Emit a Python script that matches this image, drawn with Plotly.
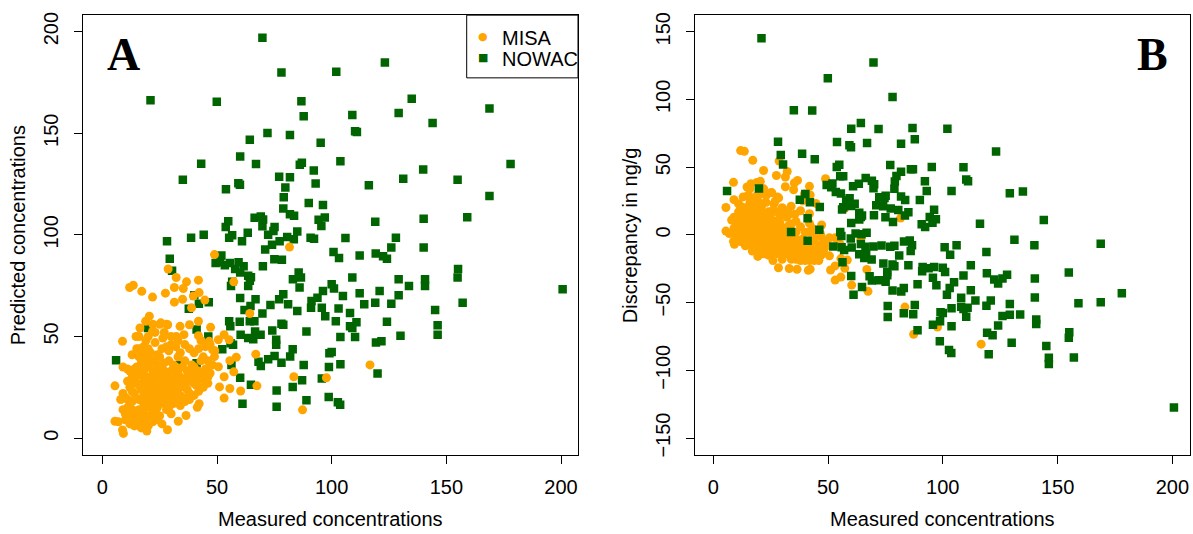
import plotly.graph_objects as go

# ---------------- data ----------------
nowac_measured = [69.8,123.2,78.1,102,21,49.9,86.8,134.9,168.8,109,129.2,87.8,144,72,81.8,110.2,111,64.3,95.2,60.1,
                  43.1,67,103.8,86.1,87,139.9,178,92.2,35.1,131.2,154.9,77.1,81.8,53.9,59.3,60,93,116.2,79.8,79.1,
                  168.8,90,96.2,78.9,81.8,83.6,140.1,159.1,66.4,69.1,70.1,54.9,53.8,69.8,94.3,97,95.5,119,63.4,56.6,
                  55.3,38.7,44.2,28.2,60.9,72.3,74.6,75.1,80.6,85,83.5,90.8,92.3,106,128,74,77.3,71,140.1,126,
                  100.8,103.2,112.2,119.2,122.4,124.1,29.4,75,78.3,51.9,49.4,51.4,53.4,55.6,59.4,57.9,61.6,70,30.4,60.1,
                  63.6,64.3,63.6,64.8,85.6,86.6,83.1,109,129.2,140.7,140.7,155.1,154.9,133.7,200.7,56.1,56.6,86,100,101,
                  96.2,93.8,91.2,91,95.7,97.2,104.9,112.2,120.9,129.2,119,114.2,126,157.1,145.1,103,108,78.9,77.1,81,
                  73.3,69.8,66.8,64.6,60.1,62,85,59.9,55.3,55.8,64.3,66.3,66.6,69,63.6,65.8,60.3,74.1,75.8,75.8,
                  78.1,78.9,89,101.8,108,109,110.8,124.1,103.8,110.2,130,119.3,121.7,146.2,146.2,52.3,55.9,57,83,81.9,
                  75.1,72.3,78.1,68.1,69.1,56.3,6,87.8,98.8,103.8,100,99,120,87.1,60.1,95.7,83,64.8,76,98.7,
                  89,61.1,76,102.7,103.7,19.9,37.7,40.1,42.1,46.4,41.1,46.2,33.9,41.1]
nowac_predicted = [197,184.8,179.9,180.3,166.2,165.5,165.7,167,162.2,159,160,158.4,155,150.1,149.1,151,150.6,146.8,145.3,138.5,
                   135,134.9,136.2,134.5,135.5,132.2,134.9,131.7,127.1,127.6,127.1,128.6,128.4,122.5,125.4,124.6,125.3,124.4,123.3,118.5,
                   119.1,115.7,114.7,113,110.2,109.4,107.9,108.7,108.4,109,107.5,106.7,103.9,104.2,107.4,108.5,104.4,106.4,101.1,99.8,
                   98.6,98.6,100.1,96.9,96.8,100.1,101.9,103.9,98.9,101.7,97.8,98.6,98.1,98.4,98.6,95.1,96.8,92.8,93.8,93.8,
                   91.6,88.6,89.8,90.8,89.5,88.2,88.3,88,87.8,89.8,86.2,86.5,85,86.2,86.5,83.2,84.5,84.5,82.4,81.5,
                   79.9,77.4,74.9,79.1,81.5,79,78.2,79,78.2,78.2,74.9,83.2,79,74.9,73.2,74.9,76.9,74.1,75.7,73.6,
                   72.4,69.1,67.4,64.1,64.1,60,69.9,71.3,72.4,70.3,66.6,65.8,66.1,66.6,63,63.8,61.6,70.8,68.3,65.8,
                   65.5,61.3,68.3,65,68.9,63,62.5,57.3,57.5,55,57.5,57.5,52.5,50.9,49.2,48.7,50.9,53,48.4,45.9,
                   56.3,55.8,52.5,57.5,55,54.2,57,57.2,49.7,49.7,50.4,47.1,47.6,55.5,50.9,43.7,46.7,45.9,43.7,40.1,
                   40.4,38.8,37.1,37.6,35.5,36,38.3,36,35,36.3,42.4,41.8,31.8,28.5,29.7,29.3,25.2,26.3,23.4,20.2,
                   18.6,16.9,15.4,17.7,16.4,54.2,63.6,70.3,66.1,66.9,53.4,50,36,36.8]

misa_measured = [81.6,48.9,57.3,28.7,32.2,41.9,36.7,13.5,11.9,17.2,21.9,27.5,31.4,35.3,39.7,42.2,44.7,35,31.4,38.9,
                 64.3,20.5,18.9,25.5,28.5,33.9,38,41.9,47.2,16.4,21.9,14.7,8.8,26.4,32.2,35.6,41.9,46.6,50.6,53.1,
                 55.3,48.1,48.9,58.4,55.6,66.9,50.6,57.3,53.1,51.1,55.6,60.3,53.1,67.4,83.5,97.7,116.7,87.3,5.5,5.5,
                 8.8,9.2,19.4,28.4,33.1,36.5,41.4,42.2,
                 10,11,12,12,13,13,14,14,15,15,15,16,16,16,17,17,17,18,18,18,
                 18,19,19,19,20,20,20,20,21,21,21,22,22,22,22,23,23,23,24,24,
                 24,25,25,25,26,26,26,27,27,27,28,28,28,29,29,29,30,30,30,31,
                 31,31,32,32,33,33,33,34,34,35,35,36,36,37,37,38,38,39,40,40,
                 41,42,43,44,45,46,47,12,14,16,18,19,21,23,24,26,27,28,30,32,
                 34,29,25,22,17,15,13,11,10,12,14,17,20,22,24,26,19,21,23,16,
                 18,20,25,27,29,31,34,36,38,40,42,44,46,13,11,9,8,9,10,7,
                 14,16,18,20,22,24,26,28,30,32,35,37,39,41,43,24,21,19,17,15,
                 13,23,27,25,22,20,16,28,30,33,36,38,40,42,44,46,48,49,45,47,
                 43,11,9]
misa_predicted = [94,90.3,76.9,83.2,79,77.7,76.9,75.2,74.1,72.2,69.4,71.3,74.1,73.6,69.9,71.6,67.9,68.3,66.9,64.1,
                  61.3,60,57.5,56.7,55.8,55,55.8,57.5,54.5,54.2,52.5,50,47.6,49.2,50,50.9,50.4,47.6,48.4,50.9,
                  48.4,43.4,40.1,39.8,38.1,41.3,35.1,32.6,30.2,25.2,24.4,23.2,19.7,25.7,30.2,29.7,36,13.9,25.7,8.3,
                  4,2.3,3.5,4.1,8.3,11.1,15.2,16.9,
                  20,15,25,10,18,30,22,12,35,8,27,19,14,40,24,31,9,17,21,28,
                  12,36,25,15,19,30,44,10,23,27,16,33,20,13,38,25,18,29,22,15,
                  41,27,34,11,20,24,30,17,37,26,22,31,14,28,19,43,25,33,12,22,
                  36,29,18,27,32,24,40,30,21,35,27,25,38,30,33,22,28,31,27,35,
                  30,33,29,31,34,30,32,33,34,44,45,48,42,47,36,44,33,45,46,45,
                  42,38,40,29,37,31,23,19,12,7,6,5,6,8,9,7,8,11,13,11,
                  14,16,17,20,15,17,16,18,19,21,23,25,27,14,28,22,19,14,9,8,
                  28,26,33,35,24,27,34,26,20,35,20,24,36,26,38,31,37,40,42,44,
                  41,52,52,56,56,50,50,56,50,48,46,44,42,44,40,38,36,43,45,46,
                  48,34,35]

# Panel B: discrepancy (predicted minus measured) of the same samples
misa_discrepancy = [p - m for m, p in zip(misa_measured, misa_predicted)]
nowac_discrepancy = [p - m for m, p in zip(nowac_measured, nowac_predicted)]

x_ticks = [0, 50, 100, 150, 200]
a_y_ticks = [0, 50, 100, 150, 200]
b_y_ticks = [-150, -100, -50, 0, 50, 100, 150]
legend_labels = ["MISA", "NOWAC"]

ORANGE = "#FFA500"
GREEN = "#006400"
FONT = "Liberation Sans"
W, H = 1193, 534

fig = go.Figure()

# Panel A: NOWAC under MISA
fig.add_trace(go.Scatter(x=nowac_measured, y=nowac_predicted, mode="markers", name="NOWAC", showlegend=False,
                         marker=dict(symbol="square", size=8.5, color=GREEN, line=dict(width=0)),
                         xaxis="x", yaxis="y"))
fig.add_trace(go.Scatter(x=misa_measured, y=misa_predicted, mode="markers", name="MISA", showlegend=False,
                         marker=dict(symbol="circle", size=9, color=ORANGE, line=dict(width=0)),
                         xaxis="x", yaxis="y"))
# Panel B: MISA under NOWAC
fig.add_trace(go.Scatter(x=misa_measured, y=misa_discrepancy, mode="markers", name="MISA", showlegend=False,
                         marker=dict(symbol="circle", size=9, color=ORANGE, line=dict(width=0)),
                         xaxis="x2", yaxis="y2"))
fig.add_trace(go.Scatter(x=nowac_measured, y=nowac_discrepancy, mode="markers", name="NOWAC", showlegend=False,
                         marker=dict(symbol="square", size=8.5, color=GREEN, line=dict(width=0)),
                         xaxis="x2", yaxis="y2"))

def px_x(v):
    return v / W

def px_y(v):
    return 1 - v / H

A_L, A_R = 83.3, 578.0
B_L, B_R = 694.7, 1190.0
TOP, BOT = 12.3, 456.7

axis_common = dict(showline=True, linecolor="black", linewidth=1, mirror=True, ticks="outside",
                   ticklen=8, tickcolor="black", tickwidth=1, showgrid=False, zeroline=False,
                   tickfont=dict(family=FONT, size=20, color="black"))

fig.update_layout(
    width=W, height=H, margin=dict(l=0, r=0, t=0, b=0),
    paper_bgcolor="white", plot_bgcolor="white",
    xaxis=dict(domain=[px_x(A_L), px_x(A_R)], range=[-8.3, 207.4], tickvals=x_ticks,
               ticklabelstandoff=6, anchor="y", **axis_common),
    yaxis=dict(domain=[px_y(BOT), px_y(TOP)], range=[-8.1, 208.1], tickvals=a_y_ticks,
               tickangle=-90, ticklabelstandoff=8, anchor="x", **axis_common),
    xaxis2=dict(domain=[px_x(B_L), px_x(B_R)], range=[-8.1, 207.7], tickvals=x_ticks,
                ticklabelstandoff=6, anchor="y2", **axis_common),
    yaxis2=dict(domain=[px_y(BOT), px_y(TOP)], range=[-162.2, 162.2], tickvals=b_y_ticks,
                tickangle=-90, ticklabelstandoff=8, anchor="x2", **axis_common),
    showlegend=False,
)

ann = []
def add_text(text, x, y, size=20, angle=0, family=FONT, bold=False, color="black", xanchor="center"):
    ann.append(dict(text=("<b>%s</b>" % text) if bold else text, x=px_x(x), y=px_y(y),
                    xref="paper", yref="paper", xanchor=xanchor, yanchor="middle",
                    showarrow=False, textangle=angle,
                    font=dict(family=family, size=size, color=color)))

add_text("Measured concentrations", (A_L + A_R) / 2, 522)
add_text("Predicted concentrations", 18.3, (TOP + BOT) / 2, angle=-90)
add_text("Measured concentrations", (B_L + B_R) / 2, 522)
add_text("Discrepancy in ng/g", 630.3, (TOP + BOT) / 2, angle=-90)
add_text("A", 123, 52, size=46, family="Liberation Serif", bold=True)
add_text("B", 1152, 52, size=46, family="Liberation Serif", bold=True)

# legend box (top-right of panel A), drawn like R's legend()
fig.add_shape(type="rect", xref="paper", yref="paper",
              x0=px_x(466.7), x1=px_x(A_R), y0=px_y(75.7), y1=px_y(TOP),
              line=dict(color="black", width=1), fillcolor="white", layer="above")
add_text("●", 483.3, 34.0, size=11, family="DejaVu Sans", color=ORANGE)
add_text("■", 483.3, 55.5, size=11, family="DejaVu Sans", color=GREEN)
add_text(legend_labels[0], 499.5, 35.5, xanchor="left")
add_text(legend_labels[1], 499.5, 56.5, xanchor="left")

fig.update_layout(annotations=ann)

fig.write_html("out.html")
